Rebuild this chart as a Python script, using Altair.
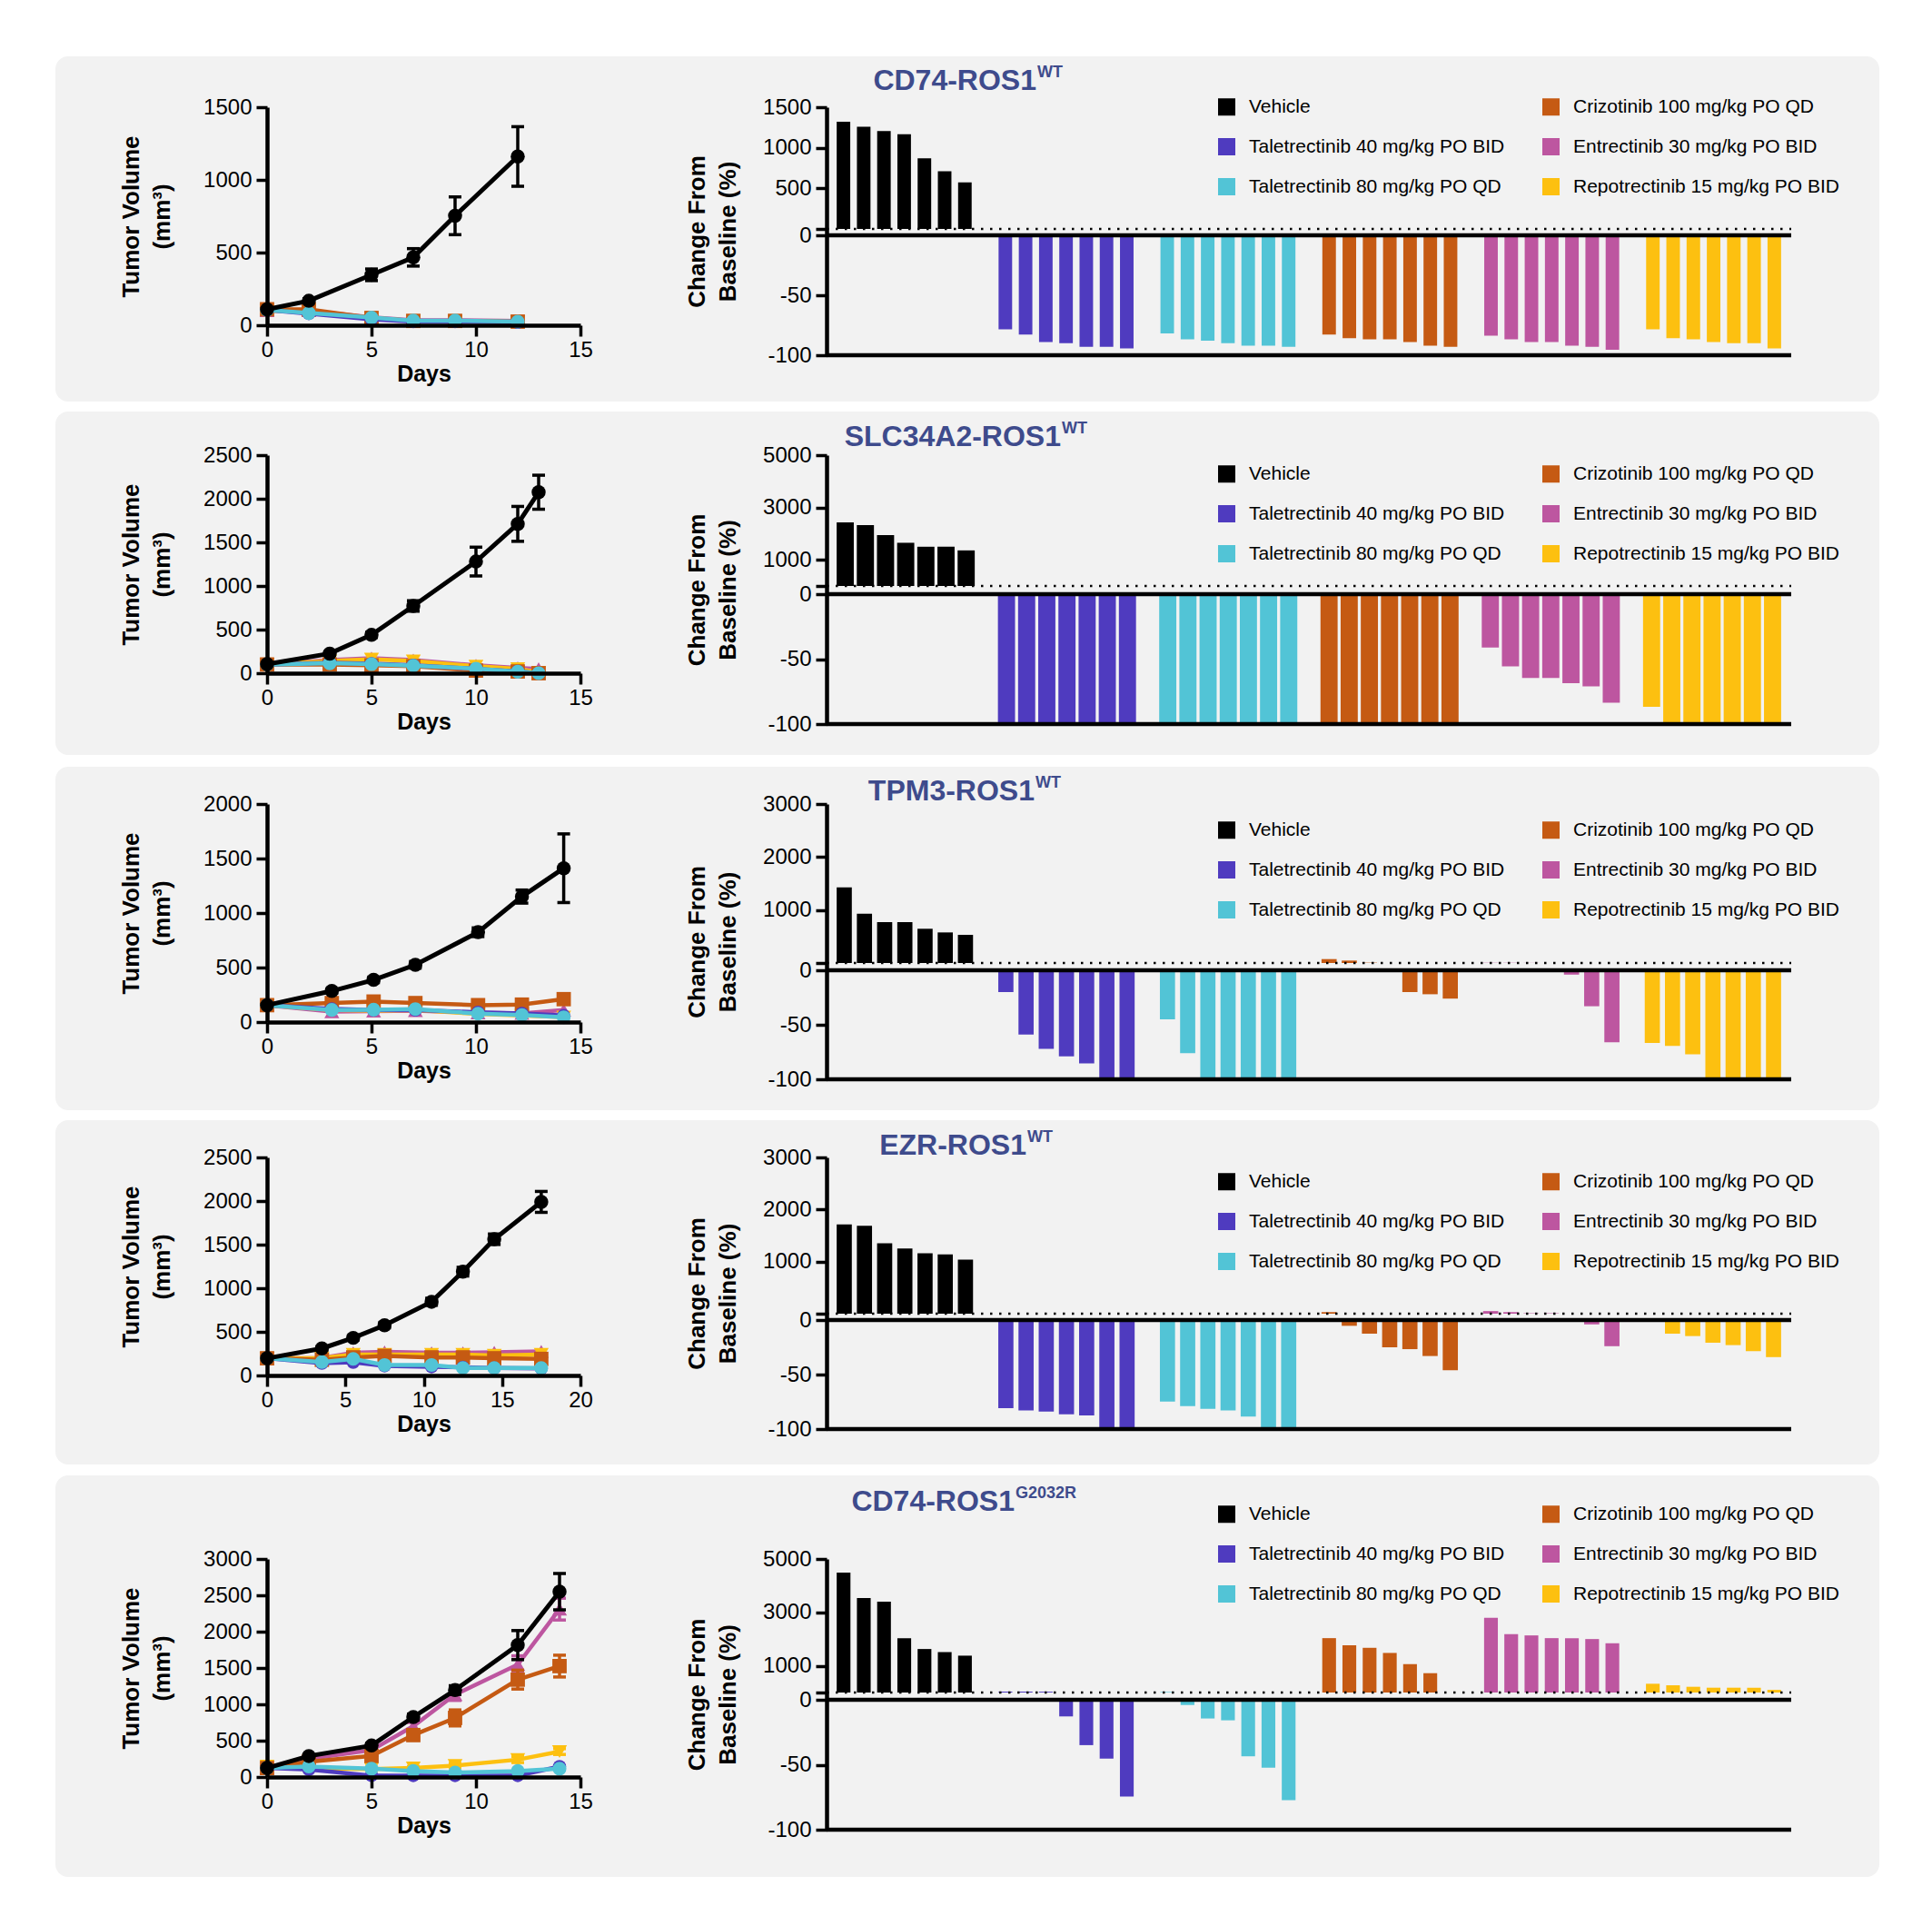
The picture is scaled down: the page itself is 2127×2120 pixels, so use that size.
import altair as alt
import pandas as pd

VEH = "Vehicle"
T40 = "Taletrectinib 40 mg/kg PO BID"
T80 = "Taletrectinib 80 mg/kg PO QD"
CRZ = "Crizotinib 100 mg/kg PO QD"
ENT = "Entrectinib 30 mg/kg PO BID"
REP = "Repotrectinib 15 mg/kg PO BID"

BAR_ORDER = [VEH, T40, T80, CRZ, ENT, REP]
LINE_DRAW_ORDER = [ENT, REP, CRZ, T40, T80, VEH]
COLORS = {VEH: "#000000", T40: "#4f3bbf", T80: "#52c4d6", CRZ: "#c55a13", ENT: "#bd56a0", REP: "#fdc010"}
SHAPES = {VEH: "circle", T40: "circle", T80: "circle", CRZ: "square", ENT: "triangle-up", REP: "triangle-down"}
SIZES = {VEH: 240, T40: 210, T80: 230, CRZ: 250, ENT: 270, REP: 270}

TITLES = ["CD74-ROS1", "SLC34A2-ROS1", "TPM3-ROS1", "EZR-ROS1", "CD74-ROS1"]
TITLE_SUPS = ["WT", "WT", "WT", "WT", "G2032R"]

# ---------------- Row 1 : CD74-ROS1 WT ----------------
r1_days = [0, 2, 5, 7, 9, 12]
r1_veh = [109, 168, 347, 467, 753, 1161]
r1_veh_err = [10, 15, 40, 60, 130, 205]
r1_t40 = [105, 80, 40, 25, 25, 20]
r1_t80 = [105, 84, 53, 32, 32, 25]
r1_crz = [110, 110, 50, 30, 30, 25]
r1_ent = [100, 100, 55, 35, 35, 30]
r1_rep = [100, 95, 50, 30, 28, 22]
r1_bar_veh = [1320, 1260, 1207, 1166, 870, 712, 574]
r1_bar_t40 = [-78.5, -82.8, -89, -90, -93, -93, -94.4]
r1_bar_t80 = [-81.8, -86.8, -87.8, -90, -92, -92, -93]
r1_bar_crz = [-82.8, -85.8, -86.8, -86.8, -89, -92, -93]
r1_bar_ent = [-83.8, -86.8, -89, -89, -92, -93, -95.4]
r1_bar_rep = [-78.5, -85.8, -86.8, -89, -90, -90, -94.4]

# ---------------- Row 2 : SLC34A2-ROS1 WT ----------------
r2_days = [0, 3, 5, 7, 10, 12, 13]
r2_veh = [104, 225, 439, 771, 1280, 1712, 2075]
r2_veh_err = [10, 20, 30, 60, 165, 200, 195]
r2_t40 = [100, 120, 110, 90, 50, 20, 0]
r2_t80 = [100, 114, 104, 86, 52, 17, 0]
r2_crz = [100, 100, 90, 80, 30, 20, 0]
r2_ent = [100, 150, 173, 150, 90, 60, 50]
r2_rep = [100, 140, 160, 140, 80, 50, 10]
r2_bar_veh = [2430, 2326, 1942, 1651, 1500, 1500, 1360]
r2_bar_t40 = [-100, -100, -100, -100, -100, -100, -100]
r2_bar_t80 = [-100, -100, -100, -100, -100, -100, -100]
r2_bar_crz = [-100, -100, -100, -100, -100, -100, -100]
r2_bar_ent = [-41, -55.6, -64.5, -64.5, -68.5, -71, -83.6]
r2_bar_rep = [-86.7, -100, -100, -100, -100, -100, -100]

# ---------------- Row 3 : TPM3-ROS1 WT ----------------
r3_days = [0, 3.1, 5.1, 7.1, 10.1, 12.2, 14.2]
r3_veh = [155, 285, 387, 525, 824, 1151, 1411]
r3_veh_err = [10, 20, 25, 30, 40, 60, 315]
r3_t40 = [155, 120, 110, 110, 90, 80, 60]
r3_t80 = [155, 111, 113, 119, 77, 64, 44]
r3_crz = [155, 174, 188, 174, 155, 160, 210]
r3_ent = [155, 95, 100, 105, 85, 80, 110]
r3_rep = [155, 110, 105, 110, 75, 60, 45]
r3_bar_veh = [1429, 931, 771, 771, 646, 577, 531]
r3_bar_t40 = [-20, -59, -72, -79, -85.5, -100, -100]
r3_bar_t80 = [-45, -76, -100, -100, -100, -100, -100]
r3_bar_crz = [74, 46, 6, 0, -20, -22, -26]
r3_bar_ent = [4, 4, 2, 0, -4, -33, -66]
r3_bar_rep = [-66.7, -69.4, -77, -100, -100, -100, -100]

# ---------------- Row 4 : EZR-ROS1 WT ----------------
r4_days = [0, 3.5, 5.5, 7.5, 10.5, 12.5, 14.5, 17.5]
r4_veh = [197, 310, 431, 576, 845, 1190, 1562, 1990]
r4_veh_err = [10, 20, 25, 30, 40, 50, 60, 120]
r4_t40 = [197, 140, 150, 110, 100, 95, 85, 80]
r4_t80 = [197, 155, 190, 120, 120, 86, 86, 86]
r4_crz = [197, 180, 207, 224, 207, 207, 197, 190]
r4_ent = [197, 200, 260, 270, 260, 260, 265, 275]
r4_rep = [197, 200, 240, 240, 240, 240, 230, 240]
r4_bar_veh = [1712, 1689, 1351, 1252, 1159, 1136, 1037]
r4_bar_t40 = [-80.8, -83, -84, -86.4, -87.5, -100, -100]
r4_bar_t80 = [-74.7, -79, -81.4, -83, -88.6, -100, -100]
r4_bar_crz = [30, -5.3, -12.5, -25, -26.7, -33, -46]
r4_bar_ent = [50, 30, 8, 8, 0, -4, -24]
r4_bar_rep = [0, -12.5, -14.7, -20.8, -23, -28.6, -34]

# ---------------- Row 5 : CD74-ROS1 G2032R ----------------
r5_days = [0, 2, 5, 7, 9, 12, 14]
r5_veh = [124, 289, 433, 825, 1196, 1815, 2550]
r5_veh_err = [10, 20, 30, 40, 60, 200, 250]
r5_t40 = [124, 103, 20, 20, 20, 20, 144]
r5_t80 = [124, 144, 115, 82, 62, 82, 115]
r5_crz = [124, 210, 290, 577, 813, 1340, 1526]
r5_crz_err = [10, 20, 40, 70, 110, 130, 150]
r5_ent = [124, 250, 370, 700, 1134, 1547, 2310]
r5_ent_err = [10, 20, 30, 50, 80, 120, 150]
r5_rep = [150, 120, 110, 124, 157, 239, 350]
r5_rep_err = [10, 10, 20, 20, 30, 40, 40]
r5_bar_veh = [4490, 3540, 3405, 2036, 1629, 1516, 1380]
r5_bar_t40 = [30, 30, 30, -12.8, -34.9, -45.3, -74.4]
r5_bar_t80 = [20, -4, -14.4, -15.8, -43.5, -52.3, -77.2]
r5_bar_crz = [2036, 1765, 1674, 1482, 1063, 724, 0]
r5_bar_ent = [2794, 2183, 2138, 2036, 2036, 2002, 1844]
r5_bar_rep = [328, 271, 215, 181, 181, 181, 100]

# axis ranges / ticks
LINE_YTOP = [1500, 2500, 2000, 2500, 3000]
LINE_XMAX = [15, 15, 15, 20, 15]
BAR_TOP = [1500, 5000, 3000, 3000, 5000]
BAR_POS_TICKS = [[500, 1000, 1500], [1000, 3000, 5000], [1000, 2000, 3000], [1000, 2000, 3000], [1000, 3000, 5000]]

FONT = "Liberation Sans"
TITLE_COLOR = "#3e4b8c"
EPS = 0.001
LW, LH = 345, 240
BW = 1062
TICK_FS = 24

# layout (pixels)
ROW_H = [383, 384, 389, 442, 300]            # pitch of the rows
BAR_RANGE = [273, 296, 303, 299, 298]        # drawn height of the waterfall axis
BAR_ZERO = [(141, 134), (153, 144), (183, 175), (179, 172), (155, 147)]
BAR_PAD_INNER = [0.33, 0.15, 0.25, 0.25, 0.32]
PANELS = [(-233, 1775, -56, 324), (-233, 1775, -48, 330), (-233, 1775, -41, 337),
          (-233, 1775, -41, 338), (-233, 1775, -92, 350)]
LEG_Y = [-11, 10, 18, 16, -60]
TITLE_X = [231, 258, 229, 220, 207]
TITLE_Y = [-29, -20, -14, -13, -63]


def line_panel(days, series, errs, ytop, xmax, panel, rowh):
    xsc = alt.Scale(domain=[0, xmax], nice=False, zero=False)
    ysc = alt.Scale(domain=[0, ytop], nice=False, range=[LH, 0])
    xax = alt.Axis(values=list(range(0, xmax + 1, 5)), title="Days", titleFontSize=25,
                   titleFontWeight="bold", labelFontSize=TICK_FS, tickSize=12, tickWidth=3.5,
                   domainWidth=4.5, labelPadding=3, titlePadding=2, zindex=1, grid=False,
                   labelFlush=False, format="d", offset=LH - rowh)
    yax = alt.Axis(values=list(range(0, ytop + 1, 500)), title=["Tumor Volume", "(mm³)"],
                   titleFontSize=26, titleFontWeight="bold", titleLineHeight=34,
                   titlePadding=32, labelFontSize=TICK_FS, tickSize=12, tickWidth=3.5,
                   domainWidth=4.5, labelPadding=5, zindex=1, grid=False, format="d")

    def X(f):
        return alt.X(f, type="quantitative", scale=xsc, axis=xax)

    def Y(f):
        return alt.Y(f, type="quantitative", scale=ysc, axis=yax)

    bg = alt.Chart(pd.DataFrame({"k": [0]})).mark_rect(fill="#f2f2f2", cornerRadius=14).encode(
        x=alt.value(panel[0]), x2=alt.value(panel[1]), y=alt.value(panel[2]), y2=alt.value(panel[3]))
    layers = [bg]
    for g in LINE_DRAW_ORDER:
        df = pd.DataFrame({"day": days, "vol": series[g]})
        if g in errs:
            df["lo"] = [v - e for v, e in zip(series[g], errs[g])]
            df["hi"] = [v + e for v, e in zip(series[g], errs[g])]
        base = alt.Chart(df)
        layers.append(base.mark_line(color=COLORS[g], strokeWidth=5 if g == VEH else 4.5).encode(
            x=X("day"), y=Y("vol")))
        if g in errs:
            layers.append(base.mark_rule(color=COLORS[g], strokeWidth=3.5).encode(
                x=X("day"), y=Y("lo"), y2="hi"))
            for f in ("lo", "hi"):
                layers.append(base.mark_tick(orient="horizontal", size=14, thickness=3.5,
                                             color=COLORS[g], opacity=1).encode(x=X("day"), y=Y(f)))
        layers.append(base.mark_point(filled=True, opacity=1, shape=SHAPES[g], size=SIZES[g],
                                      color=COLORS[g]).encode(x=X("day"), y=Y("vol")))
    return alt.layer(*layers).properties(width=LW, height=rowh)


def bar_panel(idx, vals):
    top = BAR_TOP[idx]
    H = BAR_RANGE[idx]
    z_neg, z_pos = BAR_ZERO[idx]
    rows = []
    for gi, g in enumerate(BAR_ORDER):
        for i, v in enumerate(vals[g]):
            rows.append({"slot": gi * 8 + i, "group": g, "v": v})
    df = pd.DataFrame(rows)
    ysc = alt.Scale(domain=[-100, 0, EPS, top], range=[H, z_neg, z_pos, 0], nice=False, zero=False)
    ticks = [-100, -50, 0, EPS] + BAR_POS_TICKS[idx]
    yax = alt.Axis(values=ticks, labelExpr="datum.value > 0 && datum.value < 1 ? '' : '' + datum.value",
                   title=["Change From", "Baseline (%)"], titleFontSize=26,
                   titleFontWeight="bold", titleLineHeight=34, titlePadding=25, labelFontSize=TICK_FS,
                   tickSize=12, tickWidth=3.5, domainWidth=4.5, labelPadding=5, grid=False)
    bars = alt.Chart(df).transform_calculate(base=f"datum.v > 0 ? {EPS} : 0").mark_bar().encode(
        x=alt.X("slot:O", scale=alt.Scale(domain=list(range(47)), paddingInner=BAR_PAD_INNER[idx],
                                          paddingOuter=0.5), axis=None),
        y=alt.Y("v:Q", scale=ysc, axis=yax),
        y2="base:Q",
        color=alt.Color("group:N",
                        scale=alt.Scale(domain=BAR_ORDER, range=[COLORS[g] for g in BAR_ORDER]),
                        legend=alt.Legend(orient="none", legendX=430, legendY=LEG_Y[idx], columns=2,
                                          title=None, symbolType="square", symbolSize=361,
                                          symbolStrokeWidth=0, labelFontSize=21, labelFont=FONT,
                                          labelColor="black", rowPadding=22, columnPadding=40,
                                          labelOffset=14, padding=0, labelLimit=500)),
    )
    one = alt.Chart(pd.DataFrame({"k": [0]}))
    zero_line = one.mark_rule(color="black", strokeWidth=4.5).encode(
        y=alt.Y(datum=0, type="quantitative", scale=ysc, axis=yax), x=alt.value(0), x2=alt.value(BW))
    bottom_line = one.mark_rule(color="black", strokeWidth=4.5).encode(
        y=alt.Y(datum=-100, type="quantitative", scale=ysc, axis=yax), x=alt.value(0), x2=alt.value(BW))
    dotted = one.mark_rule(color="black", strokeWidth=2.5, strokeDash=[2.5, 7.5]).encode(
        y=alt.Y(datum=EPS, type="quantitative", scale=ysc, axis=yax), x=alt.value(0), x2=alt.value(BW))
    t_main = one.mark_text(font=FONT, fontSize=32, fontWeight="bold", color=TITLE_COLOR,
                           align="right", baseline="middle").encode(
        x=alt.value(TITLE_X[idx]), y=alt.value(TITLE_Y[idx]), text=alt.value(TITLES[idx]))
    t_sup = one.mark_text(font=FONT, fontSize=18, fontWeight="bold", color=TITLE_COLOR,
                          align="left", baseline="middle").encode(
        x=alt.value(TITLE_X[idx] + 1), y=alt.value(TITLE_Y[idx] - 9), text=alt.value(TITLE_SUPS[idx]))
    return alt.layer(bars, dotted, zero_line, bottom_line, t_main, t_sup).properties(
        width=BW, height=ROW_H[idx])


line_inputs = [
    (r1_days, {VEH: r1_veh, T40: r1_t40, T80: r1_t80, CRZ: r1_crz, ENT: r1_ent, REP: r1_rep}, {VEH: r1_veh_err}),
    (r2_days, {VEH: r2_veh, T40: r2_t40, T80: r2_t80, CRZ: r2_crz, ENT: r2_ent, REP: r2_rep}, {VEH: r2_veh_err}),
    (r3_days, {VEH: r3_veh, T40: r3_t40, T80: r3_t80, CRZ: r3_crz, ENT: r3_ent, REP: r3_rep}, {VEH: r3_veh_err}),
    (r4_days, {VEH: r4_veh, T40: r4_t40, T80: r4_t80, CRZ: r4_crz, ENT: r4_ent, REP: r4_rep}, {VEH: r4_veh_err}),
    (r5_days, {VEH: r5_veh, T40: r5_t40, T80: r5_t80, CRZ: r5_crz, ENT: r5_ent, REP: r5_rep},
     {VEH: r5_veh_err, CRZ: r5_crz_err, ENT: r5_ent_err, REP: r5_rep_err}),
]
bar_inputs = [
    {VEH: r1_bar_veh, T40: r1_bar_t40, T80: r1_bar_t80, CRZ: r1_bar_crz, ENT: r1_bar_ent, REP: r1_bar_rep},
    {VEH: r2_bar_veh, T40: r2_bar_t40, T80: r2_bar_t80, CRZ: r2_bar_crz, ENT: r2_bar_ent, REP: r2_bar_rep},
    {VEH: r3_bar_veh, T40: r3_bar_t40, T80: r3_bar_t80, CRZ: r3_bar_crz, ENT: r3_bar_ent, REP: r3_bar_rep},
    {VEH: r4_bar_veh, T40: r4_bar_t40, T80: r4_bar_t80, CRZ: r4_bar_crz, ENT: r4_bar_ent, REP: r4_bar_rep},
    {VEH: r5_bar_veh, T40: r5_bar_t40, T80: r5_bar_t80, CRZ: r5_bar_crz, ENT: r5_bar_ent, REP: r5_bar_rep},
]

cells = []
for i in range(5):
    days, series, errs = line_inputs[i]
    cells.append(line_panel(days, series, errs, LINE_YTOP[i], LINE_XMAX[i], PANELS[i], ROW_H[i]))
    cells.append(bar_panel(i, bar_inputs[i]))

chart = alt.concat(*cells, columns=2, spacing={"row": 0, "column": 271}, bounds="flush").resolve_scale(
    color="independent", x="independent", y="independent").resolve_legend(color="independent")

chart = chart.properties(
    padding={"left": 52, "top": 53, "right": 10, "bottom": 10},
    background="white",
).configure(font=FONT).configure_view(stroke="transparent").configure_axis(
    domainColor="black", tickColor="black", labelColor="black", titleColor="black",
    labelFont=FONT, titleFont=FONT
)

chart.save("out.html", embed_options={"renderer": "svg", "actions": False})
